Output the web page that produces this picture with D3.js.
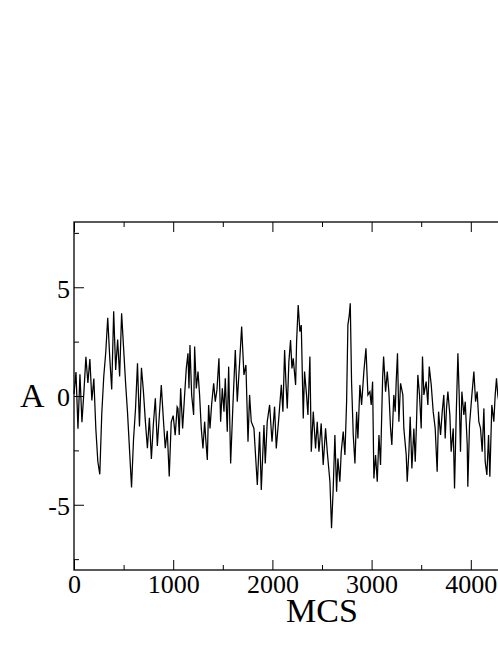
<!DOCTYPE html>
<meta charset="utf-8">
<style>
    body { margin: 0; background: #fff; }
    svg { display: block; }
    svg text { font-family: "Liberation Serif", "Times New Roman", serif; fill: #000; }
</style>
<svg width="498" height="645"></svg>
<script src="https://d3js.org/d3.v7.min.js"></script>
<script>

    // series (MCS, A)
    var mcs = [
        0, 20, 40, 60, 80, 100, 120, 140, 160, 180, 200, 220, 240, 260, 280,
        300, 320, 340, 360, 380, 400, 420, 440, 460, 480, 500, 520, 540, 560, 580,
        600, 620, 640, 660, 680, 700, 720, 740, 760, 780, 800, 820, 840, 860, 880,
        900, 920, 940, 960, 980, 1000, 1020, 1040,
        1048, 1061, 1075, 1095, 1115, 1132, 1149, 1159, 1169, 1186, 1206, 1216, 1233, 1250, 1266,
        1283, 1300, 1317, 1330, 1344, 1357, 1371, 1387, 1408, 1424, 1441, 1461, 1478, 1495, 1512,
        1525, 1545, 1559, 1579, 1602, 1626, 1646, 1670, 1690, 1713, 1733, 1754, 1770, 1787, 1814,
        1838, 1848, 1871, 1888, 1915, 1928, 1948, 1972, 1996, 2022, 2039, 2063, 2090, 2106,
        2123, 2136, 2150, 2166, 2183, 2197, 2210, 2234, 2244, 2260, 2277, 2291, 2311, 2324, 2344,
        2358, 2378, 2392, 2412, 2435, 2452, 2469, 2492, 2512, 2536, 2553, 2580, 2596, 2613, 2630,
        2647, 2660, 2680, 2694, 2714, 2731, 2748, 2761, 2775, 2785, 2798, 2815, 2832, 2849, 2862,
        2882, 2899, 2922, 2943, 2963, 2983, 2996, 3010, 3023, 3040, 3057, 3074, 3090, 3111, 3121,
        3141, 3158, 3174, 3191, 3204, 3224, 3238, 3248, 3261, 3275, 3292, 3315, 3325, 3349, 3359,
        3376, 3389, 3406, 3426, 3440, 3453, 3466, 3483, 3500, 3513, 3527, 3550, 3567, 3581, 3601,
        3621, 3641, 3661, 3675, 3695, 3712, 3728, 3742, 3755, 3769, 3789, 3802, 3823, 3836, 3853,
        3870, 3883, 3896, 3910, 3930, 3944, 3964, 3970, 3987, 4011, 4031, 4048, 4064, 4081, 4098,
        4115, 4132, 4145, 4162, 4179, 4192, 4212, 4232, 4246, 4259, 4272, 4290
    ];
    var amp = [
        0.1, 1.1, -1.5, 1.0, -1.2, 0.2, 1.8, 0.6, 1.7, -0.2, 0.8, -1.5, -3.0, -3.6, -0.8,
        0.9, 2.0, 3.6, 1.8, 0.3, 3.9, 1.2, 2.6, 0.9, 3.8, 2.2, 0.6, -0.8, -2.5, -4.2,
        -2.0, -0.6, 1.5, -1.4, 1.3, 0.2, -1.2, -2.4, -1.0, -2.9, -1.3, -0.1, -2.3, -0.9, 0.5,
        -1.0, -2.4, -1.6, -3.7, -1.2, -0.9, -1.8, -0.5,
        -0.57, -1.79, 0.35, -1.49, 0.05, 1.27, 1.96, 0.35, 2.34, 0.05, -0.87, 2.27, 0.35, 1.12, 0.05,
        -1.49, -2.41, -1.18, -2.1, -2.94, -0.41, -1.49, -0.41, 0.58, -0.26, 0.28, 1.73, -1.18, 0.35, -0.72,
        0.81, -1.64, 1.35, -3.1, -0.41, 2.11, -0.26, 1.58, 3.19, 0.97, 1.43, -2.1, 0.05, -1.18, -1.49,
        -3.33, -4.09, -1.64, -4.32, -1.33, -3.1, -1.18, -0.41, -2.1, -0.49, -2.41, -1.1, 0.51, -0.72,
        2.11, 0.66, -0.57, 1.58, 2.57, 1.27, 1.73, 0.51, 2.5, 4.18, 2.96, 3.26, -1.03, 1.12, 0.05,
        -0.87, 1.81, -2.56, -0.72, -2.41, -1.18, -2.56, -1.26, -3.17, -1.49, -2.56, -3.94, -6.08, -4.25, -1.79,
        -4.4, -2.87, -3.94, -2.56, -1.64, -2.71, -0.26, 3.26, 3.72, 4.26, 0.66, -1.79, -3.1, -0.72, -1.95,
        0.51, -0.41, 1.12, 2.19, 0.05, 0.2, -0.41, 0.66, -3.79, -2.71, -3.94, -1.79, -3.17, 0.81, 1.81,
        0.2, 1.12, 0.2, -1.49, -2.25, 0.05, -0.72, 0.66, 1.96, -1.18, 0.58, 0.05, -1.49, -2.71, -3.94,
        -2.56, -0.95, -3.33, -1.49, -3.02, -1.18, 0.97, 0.05, -1.49, 1.81, 0.05, 0.66, -0.41, 1.35, 0.51,
        -0.72, -1.49, -3.48, -0.72, -1.79, -0.72, 0.05, -1.95, -0.57, 0.2, -0.87, -2.56, -1.49, -4.25, -0.87,
        1.96, 0.05, -2.56, 0.2, -0.87, -0.26, -2.25, -4.17, -1.33, 0.05, 1.12, -0.26, 0.2, -1.18, -1.49,
        -2.56, -0.57, -3.02, -3.63, -1.79, -3.71, -0.41, -1.18, 0.05, 0.81, 0.05, -0.5
    ];

    var xMajor = [0, 1000, 2000, 3000, 4000, 5000];
    var xMinor = [500, 1500, 2500, 3500, 4500];
    var yMajor = [-5, 0, 5];
    var yMinor = [-7.5, -2.5, 2.5, 7.5];
    var xTitle = "MCS";
    var yTitle = "A";

    var svg = d3.select("svg");

    var plotLeft = 74, plotTop = 222, plotRight = 570, plotBottom = 570;

    var x = d3.scaleLinear().domain([0, 5000]).range([plotLeft, plotRight]);
    var y = d3.scaleLinear().domain([-8, 8]).range([plotBottom, plotTop]);

    var data = mcs.map(function (d, i) { return [d, amp[i]]; });

    var line = d3.line()
        .x(function (d) { return x(d[0]); })
        .y(function (d) { return y(d[1]); });

    svg.append("path")
        .datum(data)
        .attr("fill", "none")
        .attr("stroke", "#000")
        .attr("stroke-width", 1.25)
        .attr("d", line);

    // frame
    svg.append("rect")
        .attr("x", plotLeft).attr("y", plotTop)
        .attr("width", plotRight - plotLeft).attr("height", plotBottom - plotTop)
        .attr("fill", "none")
        .attr("stroke", "#000")
        .attr("stroke-width", 1.3);

    // plain hyphen for negatives, like the original
    var plain = function (d) { return String(d); };

    function styleAxis(g) {
        g.attr("font-family", "Liberation Serif").attr("font-size", 26);
        g.select(".domain").remove();
        g.selectAll(".tick line").attr("stroke", "#000").attr("stroke-width", 1);
    }

    // bottom axis, ticks point inward
    svg.append("g")
        .attr("transform", "translate(0," + plotBottom + ")")
        .call(d3.axisBottom(x).tickValues(xMajor).tickSize(-10).tickPadding(5).tickFormat(plain))
        .call(styleAxis);
    svg.append("g")
        .attr("transform", "translate(0," + plotBottom + ")")
        .call(d3.axisBottom(x).tickValues(xMinor).tickSize(-5).tickFormat(""))
        .call(styleAxis);

    // top axis
    svg.append("g")
        .attr("transform", "translate(0," + plotTop + ")")
        .call(d3.axisTop(x).tickValues(xMajor).tickSize(-10).tickFormat(""))
        .call(styleAxis);
    svg.append("g")
        .attr("transform", "translate(0," + plotTop + ")")
        .call(d3.axisTop(x).tickValues(xMinor).tickSize(-5).tickFormat(""))
        .call(styleAxis);

    // left axis
    svg.append("g")
        .attr("transform", "translate(" + plotLeft + ",0)")
        .call(d3.axisLeft(y).tickValues(yMajor).tickSize(-10).tickPadding(4).tickFormat(plain))
        .call(styleAxis)
        .selectAll(".tick text").attr("dy", "0.38em");
    svg.append("g")
        .attr("transform", "translate(" + plotLeft + ",0)")
        .call(d3.axisLeft(y).tickValues(yMinor).tickSize(-5).tickFormat(""))
        .call(styleAxis);

    // right axis
    svg.append("g")
        .attr("transform", "translate(" + plotRight + ",0)")
        .call(d3.axisRight(y).tickValues(yMajor).tickSize(-10).tickFormat(""))
        .call(styleAxis);

    // axis titles
    svg.append("text")
        .attr("x", (plotLeft + plotRight) / 2)
        .attr("y", 622)
        .attr("text-anchor", "middle")
        .attr("font-size", 34)
        .text(xTitle);

    svg.append("text")
        .attr("x", 20)
        .attr("y", 407)
        .attr("font-size", 34)
        .text(yTitle);

</script>
